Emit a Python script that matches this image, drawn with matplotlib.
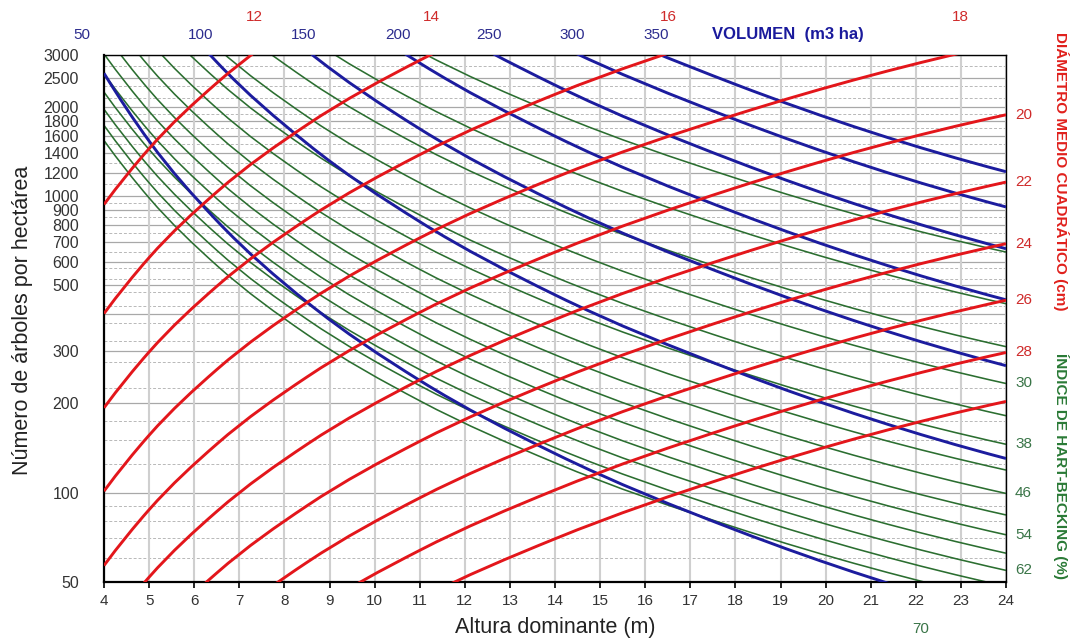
import matplotlib
matplotlib.use('Agg')
import matplotlib.pyplot as plt
import matplotlib.ticker as mticker
import matplotlib.transforms as mtransforms
import numpy as np
from matplotlib.path import Path
from matplotlib.patches import PathPatch

plt.rcParams['font.family'] = ['Liberation Sans', 'DejaVu Sans']

# Altura dominante (m) at which each isoline was read
altura = [4, 5, 6.5, 8.5, 11, 14, 18, 24]

# Diametro medio cuadratico (cm) -> arboles/ha along altura
diametros = [12, 14, 16, 18, 20, 22, 24, 26, 28, 30]
arboles_diametro = [
    [939, 1449, 2413, 4067, 6714, 10730, 17500, 30620],
    [402, 621, 1034, 1743, 2879, 4600, 7502, 13125],
    [193.2, 298.2, 496.8, 837, 1382, 2209, 3601, 6303],
    [101.1, 156.1, 260.0, 438.1, 723.5, 1157, 1885, 3299],
    [56.7, 87.5, 145.7, 245.5, 405.5, 648, 1068, 1885],
    [33.6, 51.8, 86.3, 145.4, 240.1, 383.9, 632, 1117],
    [20.8, 32.1, 53.5, 90.2, 148.9, 237.9, 392, 692],
    [13.4, 20.7, 34.5, 58.1, 95.9, 153.3, 252, 446],
    [8.9, 13.8, 22.9, 38.7, 63.8, 102.0, 168, 297],
    [6.1, 9.4, 15.7, 26.5, 43.7, 69.8, 115, 203],
]

# Volumen (m3/ha)
volumenes = [50, 100, 150, 200, 250, 300, 350]
arboles_volumen = [
    [2603, 1537, 828, 439.5, 239.1, 135.4, 74.8, 37.9],
    [8939, 5280, 2841, 1509, 821.4, 464.8, 256.9, 130.3],
    [18400, 10860, 5850, 3106, 1690, 956.6, 528.7, 268.1],
    [30700, 18130, 9761, 5184, 2819, 1596, 882.2, 447.4],
    [45650, 26970, 14520, 7711, 4196, 2374, 1313, 665.5],
    [63190, 37320, 20090, 10670, 5805, 3285, 1816, 920.9],
    [83100, 49100, 26430, 14040, 7637, 4322, 2388, 1211],
]

# Indice de Hart-Becking (%)
indices_hb = [18, 22, 26, 30, 34, 38, 42, 46, 50, 54, 58, 62, 66, 70]
arboles_hb = [
    [23341, 14938, 8839, 5169, 3086, 1905, 1152.7, 648.4],
    [15625, 10000, 5917, 3460, 2066, 1275.5, 771.6, 434.0],
    [11187, 7160, 4237, 2477, 1479, 913.2, 552.4, 310.8],
    [8403, 5378, 3182, 1861, 1111, 685.9, 414.9, 233.4],
    [6542, 4187, 2477, 1448.7, 865.1, 534.0, 323.1, 181.7],
    [5237, 3352, 1983, 1159.8, 692.5, 427.5, 258.6, 145.5],
    [4287, 2744, 1623, 949.4, 566.9, 350.0, 211.7, 119.1],
    [3574, 2287, 1353, 791.5, 472.6, 291.8, 176.5, 99.3],
    [3025, 1936, 1145.6, 669.9, 400, 246.9, 149.4, 84.0],
    [2593, 1659.8, 982.1, 574.3, 342.9, 211.7, 128.1, 72.0],
    [2248, 1438.8, 851.4, 497.9, 297.3, 183.5, 111.0, 62.4],
    [1967, 1259.1, 745.0, 435.7, 260.1, 160.6, 97.2, 54.6],
    [1736, 1111, 657.5, 384.5, 229.6, 141.7, 85.7, 48.2],
    [1543, 987.8, 584.5, 341.8, 204.1, 126.0, 76.2, 42.9],
]

# Eje Y
y_ticks = [50, 100, 200, 300, 500, 600, 700, 800, 900, 1000,
           1200, 1400, 1600, 1800, 2000, 2500, 3000]
y_grid_solid = y_ticks + [400]
y_grid_dashed = [60, 70, 80, 90, 125, 150, 175, 225, 275, 325, 375, 425, 475,
                 525, 575, 650, 750, 850, 950, 1100, 1300, 1500, 1700, 1900,
                 2150, 2350, 2750]

# etiquetas que se muestran
diam_top = [12, 14, 16, 18]
diam_right = [20, 22, 24, 26, 28]
hb_right = [30, 38, 46, 54, 62]
hb_bottom = [70]

RED = '#e3161b'
BLUE = '#1c1c9e'
GREEN = '#2b6e30'
RED_TXT = '#cf2a2a'
BLUE_TXT = '#2c2c8e'
GREEN_TXT = '#3a7548'


def trazar(ax, hs, ns, color, lw, z):
    # smooth line through the points (like Excel smoothed scatter)
    x = np.asarray(hs, float)
    y = np.log10(np.asarray(ns, float))
    h = np.diff(x)
    d = np.diff(y) / h
    m = np.empty_like(y)
    m[1:-1] = (d[:-1] * h[1:] + d[1:] * h[:-1]) / (h[:-1] + h[1:])
    m[0] = ((2 * h[0] + h[1]) * d[0] - h[0] * d[1]) / (h[0] + h[1])
    m[-1] = ((2 * h[-1] + h[-2]) * d[-1] - h[-1] * d[-2]) / (h[-1] + h[-2])
    verts = [(x[0], y[0])]
    codes = [Path.MOVETO]
    for i in range(len(x) - 1):
        verts += [(x[i] + h[i] / 3, y[i] + m[i] * h[i] / 3),
                  (x[i + 1] - h[i] / 3, y[i + 1] - m[i + 1] * h[i] / 3),
                  (x[i + 1], y[i + 1])]
        codes += [Path.CURVE4] * 3
    verts = np.array(verts)
    verts[:, 1] = 10 ** verts[:, 1]
    ax.add_patch(PathPatch(Path(verts, codes), fill=False, edgecolor=color,
                           lw=lw, zorder=z))


def cruce(hs, ns, nivel):
    ly = np.log10(ns)
    lv = np.log10(nivel)
    for i in range(len(hs) - 1):
        if (ly[i] - lv) * (ly[i + 1] - lv) <= 0 and ly[i] != ly[i + 1]:
            return hs[i] + (lv - ly[i]) * (hs[i + 1] - hs[i]) / (ly[i + 1] - ly[i])
    return hs[0] + (lv - ly[0]) * (hs[1] - hs[0]) / (ly[1] - ly[0])


W, H = 1073, 639
fig = plt.figure(figsize=(W / 100, H / 100), dpi=100)
ax = fig.add_axes([104 / W, 1 - 581.7 / H, 902 / W, 526.7 / H])

# grid
for v in y_grid_solid:
    ax.axhline(v, color='#a8a8a8', lw=0.9, zorder=1)
for v in y_grid_dashed:
    ax.axhline(v, color='#b8b8b8', lw=0.7, ls=(0, (3, 2)), zorder=1)
for hx in range(4, 25):
    ax.axvline(hx, color='#cfcfcf', lw=1.5, zorder=1)

for ns in arboles_hb:
    trazar(ax, altura, ns, GREEN, 1.15, 2)
for ns in arboles_volumen:
    trazar(ax, altura, ns, BLUE, 2.1, 3)
for ns in arboles_diametro:
    trazar(ax, altura, ns, RED, 2.1, 4)

ax.set_xlim(4, 24)
ax.set_yscale('log')
ax.set_ylim(50, 3000)
ax.set_xticks(range(4, 25))
ax.set_yticks(y_ticks)
ax.set_yticklabels([str(t) for t in y_ticks])
ax.yaxis.set_minor_locator(mticker.NullLocator())
ax.tick_params(axis='x', direction='out', length=4, width=1.2, pad=5,
               labelsize=11, labelcolor='#333333')
ax.tick_params(axis='y', length=0, pad=18, labelsize=11.5, labelcolor='#333333')
for s in ['left', 'bottom']:
    ax.spines[s].set_linewidth(1.6)
for s in ['top', 'right']:
    ax.spines[s].set_linewidth(1.0)

fig.text(23 / W, 1 - 320 / H, 'Número de árboles por hectárea', rotation=90,
         ha='center', va='center', fontsize=15.5, color='#222222')
fig.text(555 / W, 1 - 628 / H, 'Altura dominante (m)', ha='center',
         va='center', fontsize=15.5, color='#222222')

top_tr = mtransforms.blended_transform_factory(ax.transData, fig.transFigure)
right_tr = mtransforms.blended_transform_factory(ax.transAxes, ax.transData)

for v, ns in zip(volumenes, arboles_volumen):
    hx = cruce(altura, ns, 3000) - 0.22
    ax.text(hx, 1 - 35 / H, str(v), transform=top_tr, ha='center',
            va='center', fontsize=11, color=BLUE_TXT, clip_on=False)

for dm, ns in zip(diametros, arboles_diametro):
    if dm in diam_top:
        ax.text(cruce(altura, ns, 3000), 1 - 17 / H, str(dm), transform=top_tr,
                ha='center', va='center', fontsize=11, color=RED_TXT,
                clip_on=False)
    if dm in diam_right:
        ax.text(1.01, ns[-1], str(dm), transform=right_tr, ha='left',
                va='center', fontsize=11, color=RED_TXT, clip_on=False)

for ih, ns in zip(indices_hb, arboles_hb):
    if ih in hb_right:
        ax.text(1.01, ns[-1], str(ih), transform=right_tr, ha='left',
                va='center', fontsize=11, color=GREEN_TXT, clip_on=False)
    if ih in hb_bottom:
        ax.text(cruce(altura, ns, 50) - 0.3, 1 - 629 / H, str(ih),
                transform=top_tr, ha='center', va='center', fontsize=11,
                color=GREEN_TXT, clip_on=False)

fig.text(788 / W, 1 - 35 / H, 'VOLUMEN  (m3 ha)', ha='center', va='center',
         fontsize=12, fontweight='bold', color='#1a1a9c')
fig.text(1061 / W, 1 - 171 / H, 'DIÁMETRO MEDIO CUADRÁTICO (cm)', rotation=-90,
         ha='center', va='center', fontsize=11, fontweight='bold', color='#e0201c')
fig.text(1061 / W, 1 - 466 / H, 'ÍNDICE DE HART-BECKING (%)', rotation=-90,
         ha='center', va='center', fontsize=11, fontweight='bold', color='#2a7a36')

fig.savefig('out.png', dpi=100)
